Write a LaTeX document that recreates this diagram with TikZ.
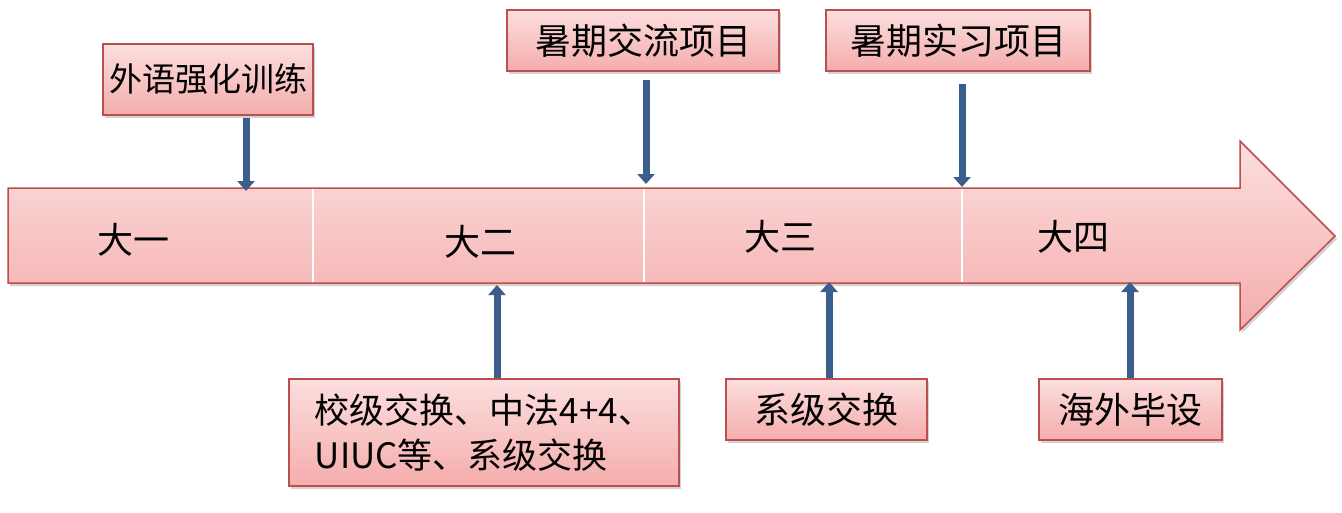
\documentclass[tikz,border=0pt]{standalone}
\usepackage{fontspec}
\setmainfont{Noto Sans CJK SC}
\usetikzlibrary{arrows.meta,shadows}
\definecolor{boxedge}{HTML}{B9504E}
\definecolor{pinktop}{HTML}{FCDEDE}
\definecolor{pinkbot}{HTML}{F4ADAC}
\definecolor{arrblue}{HTML}{3B5E8C}
\tikzset{
  pinkbox/.style={draw=boxedge, line width=1.5pt, top color=pinktop, bottom color=pinkbot,
    drop shadow={opacity=0.35, shadow xshift=2pt, shadow yshift=-3pt},
    inner sep=0pt, font=\fontsize{36}{44}\selectfont},
  yearlbl/.style={font=\fontsize{36}{40}\selectfont, inner sep=0pt},
  bluearrow/.style={draw=arrblue, line width=7pt, -{Triangle[width=17pt,length=10pt]}},
  divider/.style={draw=white, line width=2pt}
}
\begin{document}
\begin{tikzpicture}[x=1pt,y=-1pt]
\useasboundingbox (0,0) rectangle (1342,512);
% big timeline arrow
\path[draw=boxedge, line width=1.5pt, top color=pinktop, bottom color=pinkbot,
      drop shadow={opacity=0.35, shadow xshift=2pt, shadow yshift=-3pt}]
  (8,188) -- (1240,188) -- (1240,141) -- (1335,236) -- (1240,330) -- (1240,283) -- (8,283) -- cycle;
\draw[divider] (313,189) -- (313,282);
\draw[divider] (644,189) -- (644,282);
\draw[divider] (962,189) -- (962,282);
\node[yearlbl] (y1) at (133,240) {大一};
\node[yearlbl] (y2) at (480,242) {大二};
\node[yearlbl] (y3) at (780,237) {大三};
\node[yearlbl] (y4) at (1073,237) {大四};
% boxes
\node[pinkbox, minimum width=210pt, minimum height=71pt, font=\fontsize{33}{40}\selectfont] (A) at (208,79.5) {外语强化训练};
\node[pinkbox, minimum width=272pt, minimum height=61pt] (B) at (643,40.5) {暑期交流项目};
\node[pinkbox, minimum width=264pt, minimum height=61pt] (C) at (958,40.5) {暑期实习项目};
\node[pinkbox, minimum width=390pt, minimum height=107pt, align=left, font=\fontsize{35}{45}\selectfont] (D) at (484,432.5)
  {校级交换、中法4+4、\\UIUC等、系级交换};
\node[pinkbox, minimum width=201pt, minimum height=61pt] (E) at (826.5,409.5) {系级交换};
\node[pinkbox, minimum width=183pt, minimum height=61pt] (F) at (1130.5,409.5) {海外毕设};
% arrow targets
\coordinate (tA) at (246,191);
\coordinate (tB) at (646,184);
\coordinate (tC) at (962,187);
\coordinate (tD) at (497,285);
\coordinate (tE) at (829,282);
\coordinate (tF) at (1130,282);
\draw[bluearrow] ([yshift=-2pt]A.south -| tA) -- (tA);
\draw[bluearrow] ([yshift=-8pt]B.south -| tB) -- (tB);
\draw[bluearrow] ([yshift=-12pt]C.south -| tC) -- (tC);
\draw[bluearrow] (D.north -| tD) -- (tD);
\draw[bluearrow] (E.north -| tE) -- (tE);
\draw[bluearrow] (F.north -| tF) -- (tF);
\end{tikzpicture}
\end{document}
